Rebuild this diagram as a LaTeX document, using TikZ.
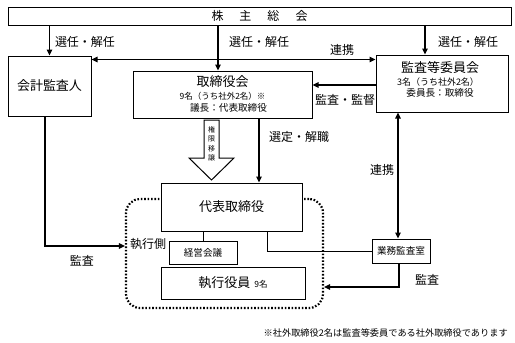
\documentclass[tikz,border=0pt]{standalone}
\usepackage{fontspec}
\setmainfont{Noto Sans CJK JP}
\usetikzlibrary{arrows.meta,calc}
\newcommand\myfL{\fontsize{13}{15}\selectfont}
\newcommand\myfM{\fontsize{12}{14}\selectfont}
\newcommand\myfS{\fontsize{8.5}{10}\selectfont}
\newcommand\myfSb{\fontsize{9.6}{11}\selectfont}
\newcommand\myfT{\fontsize{7}{8}\selectfont}
\begin{document}
\begin{tikzpicture}[x=1pt,y=-1pt,
  box/.style={draw, fill=white, line width=1pt, inner sep=0pt},
  arr/.style={-{Triangle[length=6pt,width=5.5pt]}, line width=1.3pt},
  arr2/.style={{Triangle[length=6pt,width=5.5pt]}-{Triangle[length=6pt,width=5.5pt]}, line width=1.3pt},
  thin/.style={line width=1pt},
  lab/.style={font=\myfM, inner sep=0pt},
  dotbox/.style={draw, line width=2.2pt, dash pattern=on 1.6pt off 1.8pt, rounded corners=14pt}]
\useasboundingbox (0,0) rectangle (515,343);
% dotted executive area
\node[dotbox, minimum width=197, minimum height=109] (exec) at (224.5,253.5) {};
% boxes
\node[box, minimum width=503, minimum height=18] (top) at (259.5,16) {\fontsize{12}{14}\selectfont 株\hspace{16pt}主\hspace{16pt}総\hspace{16pt}会};
\node[box, minimum width=83, minimum height=60] (kaikei) at (49.5,86) {\myfL 会計監査人};
\node[box, minimum width=179, minimum height=47] (tori) at (222.5,94.5) {};
\node[font=\myfL, inner sep=0pt] (toriA) at ($(tori.center)+(0,-12.5)$) {取締役会};
\node[font=\myfS, inner sep=0pt] (toriB) at ($(tori.center)+(0,1.5)$) {9名（うち社外2名）※};
\node[font=\myfSb, inner sep=0pt] (toriC) at ($(tori.center)+(6,13.5)$) {議長：代表取締役};
\node[box, minimum width=132, minimum height=57] (kansa) at (442,83.5) {};
\node[font=\myfL, inner sep=0pt] (kansaA) at ($(kansa.center)+(-2,-15.5)$) {監査等委員会};
\node[font=\fontsize{9}{10}\selectfont, inner sep=0pt] (kansaB) at ($(kansa.center)+(-4,-1.5)$) {3名（うち社外2名）};
\node[font=\myfSb, inner sep=0pt] (kansaC) at ($(kansa.center)+(-2,9.5)$) {委員長：取締役};
\node[box, minimum width=141, minimum height=48] (daihyo) at (231.5,207) {\myfL 代表取締役};
\node[box, minimum width=68, minimum height=23] (keiei) at (203,252.5) {\myfSb 経営会議};
\node[box, minimum width=144, minimum height=32] (shikko) at (233,283) {\myfL 執行役員\hspace{4pt}{\myfS 9名}};
\node[box, minimum width=58, minimum height=24] (gyomu) at (401,251) {\myfSb 業務監査室};
% arrows from general meeting
\draw[arr] (top.south -| kaikei.north) -- (kaikei.north);
\coordinate (c1) at ($(tori.north)+(-4.5,0)$);
\draw[arr] (c1 |- top.south) -- (c1);
\coordinate (c2) at ($(kansa.north)+(-17,0)$);
\draw[arr] (c2 |- top.south) -- (c2);
\node[lab] (l1) at (85,42) {選任・解任};
\node[lab] (l2) at (259,42) {選任・解任};
\node[lab] (l3) at (468,42) {選任・解任};
% renkei top
\coordinate (r1) at ($(kaikei.north east)+(0,4)$);
\draw[arr2] (r1) -- (r1 -| kansa.west);
\node[lab] (l4) at (342,50) {連携};
% kansa -> tori
\coordinate (r2) at ($(tori.east)+(0,-9.5)$);
\draw[arr] (r2 -| kansa.west) -- (r2);
\node[lab] (l5) at (345,100) {監査・監督};
% tori -> daihyo
\coordinate (r3) at ($(daihyo.north)+(27.5,0)$);
\draw[arr] (r3 |- tori.south) -- (r3);
\node[lab] (l6) at (299,137) {選定・解職};
% hollow arrow
\draw[line width=1pt, fill=white] (204,120) -- (219,120) -- (219,158) -- (234,158) -- (211.5,180) -- (189,158) -- (204,158) -- cycle;
\node[font=\myfT, inner sep=0pt, align=center] (kengen) at (211.5,144) {権\\[1.5pt]限\\[1.5pt]移\\[1.5pt]譲};
% kansa <-> gyomu
\coordinate (r4) at ($(gyomu.north)+(-3,0)$);
\draw[arr2] (r4 |- kansa.south) -- (r4);
\node[lab] (l7) at (382,170) {連携};
% daihyo -- keiei
\draw[thin] (keiei.north |- daihyo.south) -- (keiei.north);
% daihyo -- gyomu
\coordinate (r5) at ($(daihyo.south)+(35.5,0)$);
\draw[thin] (r5) |- (gyomu.west);
% gyomu -> exec
\coordinate (r6) at ($(gyomu.south)+(-2,0)$);
\coordinate (e2) at ($(exec.east)+(0,33.5)$);
\draw[arr] (r6) |- (e2);
\node[lab] (l8) at (427,280) {監査};
% kaikei -> exec
\coordinate (r7) at ($(kaikei.south)+(-4.5,0)$);
\coordinate (e3) at ($(exec.west)+(0,-7.5)$);
\draw[arr] (r7) |- (e3);
\node[lab] (l9) at (82,261) {監査};
\node[lab] (l10) at (148,244) {執行側};
% footnote
\node[font=\fontsize{9.2}{11}\selectfont, inner sep=0pt, anchor=east] (note) at (508,333) {※社外取締役2名は監査等委員である社外取締役であります};
\end{tikzpicture}
\end{document}
